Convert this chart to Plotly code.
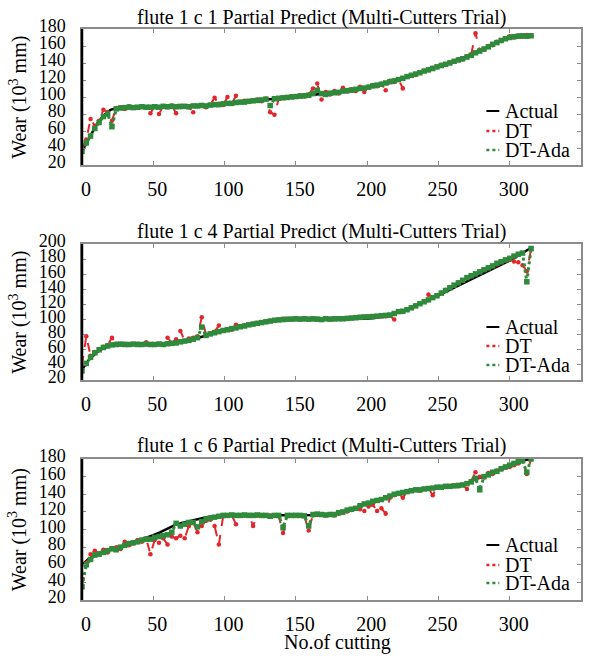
import plotly.graph_objects as go

# ---------------- data ----------------
cuts_actual = [0, 5, 10, 15, 20, 25, 30, 35, 40, 45, 50, 55, 60, 65, 70, 75, 80, 85, 90, 95,
               100, 105, 110, 115, 120, 125, 130, 135, 140, 145, 150, 155, 160, 165, 170, 175,
               180, 185, 190, 195, 200, 205, 210, 215, 220, 225, 230, 235, 240, 245, 250, 255,
               260, 265, 270, 275, 280, 285, 290, 295, 300, 305, 310, 315]

cuts_pred = [0, 3, 6, 9, 12, 15, 18, 21, 24, 27, 30, 33, 36, 39, 42, 45, 48, 51, 54, 57,
             60, 63, 66, 69, 72, 75, 78, 81, 84, 87, 90, 93, 96, 99, 102, 105, 108, 111, 114, 117,
             120, 123, 126, 129, 132, 135, 138, 141, 144, 147, 150, 153, 156, 159, 162, 165, 168, 171, 174, 177,
             180, 183, 186, 189, 192, 195, 198, 201, 204, 207, 210, 213, 216, 219, 222, 225, 228, 231, 234, 237,
             240, 243, 246, 249, 252, 255, 258, 261, 264, 267, 270, 273, 276, 279, 282, 285, 288, 291, 294, 297,
             300, 303, 306, 309, 312, 315]

# flute 1 c 1
c1_actual = [36, 51, 67, 78, 85, 87.5, 88, 88, 88, 88.2, 88.4, 88.5, 88.7, 88.8, 89, 89.3, 89.6, 90, 90.5, 91.2,
             92, 93, 93.8, 94.6, 95.4, 96.2, 97, 97.8, 98.6, 99.4, 100.2, 101, 101.7, 102.5, 103.3, 104.3,
             105.5, 106.8, 108.2, 109.7, 111.3, 113, 115, 117.2, 119.5, 122, 124.8, 127.6, 130.4, 133, 135.5, 138.5,
             141.3, 144, 147, 152, 155, 159, 163.5, 167, 170, 171.5, 172, 172.5]
c1_dt = [38, 50, 74, 66, 72, 85, 82, 72, 87, 88, 86, 89, 88, 87, 89, 88, 81, 89, 80, 89.5,
         88, 90, 81, 88, 89.5, 88, 82, 89, 90.5, 88, 91, 99, 92, 90.5, 100, 92, 101.5, 94, 95.5, 94,
         96, 97, 95, 98, 82, 79, 98, 99.5, 99, 100.5, 101, 102, 100.5, 103, 110, 116, 97, 106, 103, 107,
         104, 111, 106.5, 109, 107, 112, 106, 112, 114, 112.5, 115.5, 108, 119, 117.5, 121, 110, 124.5, 126, 126, 129,
         131, 131.5, 134.5, 135, 138, 137.5, 141, 141.5, 144.5, 144, 148, 150, 175, 155, 155.5, 160, 161, 165, 166, 169,
         171.5, 170, 172.5, 171, 173, 172]
c1_ada = [36, 46, 54, 63, 70, 77, 80, 65, 86, 87, 87.5, 88, 87.5, 88, 88.5, 88, 88, 88.5, 88, 89,
          88.5, 89, 88.5, 89, 89, 88.5, 89.5, 89.5, 90, 89.5, 90.5, 91, 91, 92, 92.5, 92.5, 93.5, 94, 94, 95,
          95.5, 96, 96.5, 97.5, 90, 98, 98.5, 99, 99.5, 100, 100.5, 101, 101.5, 102, 104, 108, 104, 103, 104.5, 105,
          105.5, 107, 107.5, 108, 109, 110, 110.5, 111.5, 113, 114, 115, 116.5, 118, 119, 120.5, 122, 124, 125.5, 127, 128.5,
          130.5, 132, 133.5, 135.5, 137, 138.5, 140, 142, 143.5, 145, 147, 149, 152, 154, 156.5, 159, 162, 164, 166.5, 168.5,
          170, 171, 171.5, 172, 171.5, 172]

# flute 1 c 4
c4_actual = [34, 47, 56, 62, 65.5, 67, 67, 67, 67, 67, 67, 67, 67.5, 68.5, 70, 72.5, 75, 78, 81, 83.5,
             86, 88, 90, 92, 94, 95.5, 97, 98.5, 99.5, 100, 100.3, 100.3, 100.3, 100.3, 100.3, 100.3,
             100.3, 100.3, 100.5, 100.8, 101.2, 102.2, 103.8, 106, 108.5, 111.5, 115, 119, 123, 127.5, 132, 136.5,
             141, 145.5, 150, 154.5, 159, 163.5, 168, 173, 178, 183.5, 189, 195]
c4_dt = [40, 78, 52, 57, 61, 64, 66, 76, 68, 67, 68, 67, 67.5, 68, 67, 70, 67.5, 67, 68, 67,
         76, 69, 74, 85, 72, 75, 76, 78, 103, 80, 82, 84, 92, 86, 87, 86.5, 93, 91, 92.5, 93,
         94.5, 95.5, 96.5, 97.5, 98.5, 99.5, 100, 101, 100.5, 101, 100.5, 101, 100.5, 101, 100.5, 101, 100.5, 101, 101, 100.5,
         101, 101.5, 102, 102, 103, 103.5, 103, 104, 103.5, 104.5, 104, 104.5, 105, 100, 111, 110, 113.5, 116, 118.5, 121.5,
         124, 133, 129, 132, 135.5, 139, 143, 145, 149, 151.5, 155, 157.5, 160, 163.5, 165.5, 168, 171, 173, 176, 178,
         179, 177, 176, 172, 164, 193]
c4_ada = [32, 42, 50, 56, 60, 63, 65, 66.5, 67, 67.5, 67, 67, 67.5, 67, 67, 67.5, 67, 67, 67.5, 67,
          68, 68.5, 69, 70.5, 71.5, 72.5, 74, 76, 90, 79, 81, 82.5, 84, 85.5, 86.5, 88, 89, 90.5, 91.5, 93,
          94, 95, 96, 97, 98, 99, 99.5, 100, 100.5, 100.5, 101, 100.5, 101, 100.5, 101, 100.5, 100, 101, 100.5, 101,
          101, 101, 101.5, 102, 102.5, 103, 103.5, 103.5, 104, 104.5, 105, 105.5, 106, 108, 110.5, 111, 113, 115.5, 118, 121,
          123.5, 126, 129, 131.5, 135, 138.5, 142, 145.5, 148.5, 152, 155.5, 158, 160.5, 163, 166, 168.5, 171, 174.5, 176.5, 179,
          181, 184, 186.5, 188, 150, 194]

# flute 1 c 6
c6_actual = [60, 67, 71, 74.5, 77, 79.5, 82, 85, 88, 90.5, 93.5, 97, 101, 105, 107.5, 109.5, 111.5, 113, 114.5, 115.5,
             116, 116, 116, 116, 116, 116, 116, 116, 116, 116, 116, 116, 116, 116.2, 116.5, 117,
             118.5, 121, 123.5, 126, 129, 132, 135, 138, 140.5, 142.5, 144, 145, 146, 147, 147.5, 148.5,
             149, 149.5, 151, 157, 159, 162.5, 166, 169.5, 173, 176, 178.5, 180]
c6_dt = [36, 62, 72, 76, 73, 77, 74, 79, 80, 78, 86, 82, 84, 88, 86, 90, 72, 88, 85, 90,
         83, 92, 90, 93, 90, 104, 108, 97, 104, 110, 111, 104, 83, 115, 116, 116.5, 106, 116, 116, 116.5,
         104, 116, 116, 115.5, 116, 116, 115, 96, 115, 116, 116.5, 116, 115, 99, 117, 116.5, 117, 116, 117.5, 116,
         118, 119, 120.5, 122, 124, 123, 121, 126, 128, 121, 124, 118, 136, 139, 141.5, 136, 143, 144, 145.5, 144,
         146, 146.5, 139, 148, 147.5, 149, 148.5, 150, 149, 151, 146, 155, 165, 160, 159, 164, 163, 167, 168, 170,
         171, 173, 175, 178, 163, 180]
c6_ada = [35, 60, 66, 71, 72, 74, 76, 78, 77, 80, 82, 84, 85, 86, 88, 89, 89, 91, 92, 93,
          94, 97, 107, 104, 106, 108, 108, 103, 109, 112, 113, 114, 115, 116, 116, 116.5, 116, 116, 116.5, 116,
          116, 116.5, 116, 116, 115, 116, 116, 102, 116, 116, 116, 116, 115.5, 104, 117, 117.5, 117, 116.5, 117, 117,
          119, 120, 122, 123, 124, 127, 129, 130, 132, 133, 134, 136, 138, 140, 141, 142, 143, 144, 145, 145,
          146, 146.5, 147, 148, 148, 149, 149, 149.5, 150, 150.5, 152, 154, 158, 145, 160, 162, 165, 166, 169, 171,
          173, 175, 177, 178, 165, 180]

titles = ["flute 1 c 1 Partial Predict (Multi-Cutters Trial)",
          "flute 1 c 4 Partial Predict (Multi-Cutters Trial)",
          "flute 1 c 6 Partial Predict (Multi-Cutters Trial)"]
series_names = ["Actual", "DT", "DT-Ada"]
x_ticks = [0, 50, 100, 150, 200, 250, 300, 350]
y_ticks = [[20, 40, 60, 80, 100, 120, 140, 160, 180],
           [20, 40, 60, 80, 100, 120, 140, 160, 180, 200],
           [20, 40, 60, 80, 100, 120, 140, 160, 180]]
y_ranges = [[20, 180], [20, 200], [20, 180]]
x_title = "No.of cutting"
y_title = "Wear (10<sup>3</sup> mm)"

panels = [(c1_actual, c1_dt, c1_ada), (c4_actual, c4_dt, c4_ada), (c6_actual, c6_dt, c6_ada)]
for a, d, g in panels:
    assert len(a) == len(cuts_actual), len(a)
    assert len(d) == len(cuts_pred), len(d)
    assert len(g) == len(cuts_pred), len(g)

# ---------------- layout geometry ----------------
W, H = 595, 661
L, R = 82, 583
TOP, BOT = 29, 600
PW, PH = R - L, BOT - TOP
panel_px = [(29, 165), (244, 380), (459, 600)]


def fx(px):
    return (px - L) / PW


def fy(py):
    return (BOT - py) / PH


FONT = "Liberation Serif"
RED = "#e3262b"
GREEN = "#2f8a3c"
GREY = "#8c8c8c"

fig = go.Figure()
annotations = []
shapes = []

for i, (act, dt, ada) in enumerate(panels):
    n = "" if i == 0 else str(i + 1)
    xa, ya = "x" + n, "y" + n
    fig.add_trace(go.Scatter(x=cuts_actual, y=act, mode="lines", name=series_names[0],
                             line=dict(color="black", width=2.5), xaxis=xa, yaxis=ya,
                             showlegend=False))
    fig.add_trace(go.Scatter(x=cuts_pred, y=dt, mode="lines+markers", name=series_names[1],
                             line=dict(color=RED, width=2, dash="dash"),
                             marker=dict(color=RED, size=4.5), xaxis=xa, yaxis=ya,
                             showlegend=False))
    fig.add_trace(go.Scatter(x=cuts_pred, y=ada, mode="lines+markers", name=series_names[2],
                             line=dict(color=GREEN, width=3, dash="dot"),
                             marker=dict(color=GREEN, size=5.5, symbol="square"), xaxis=xa, yaxis=ya,
                             showlegend=False))

    top, bot = panel_px[i]
    dom = [fy(bot), fy(top)]
    xkey = "xaxis" + n
    ykey = "yaxis" + n
    fig.layout[xkey] = dict(domain=[0, 1], anchor=ya, range=[0, 350], tickvals=x_ticks,
                            showline=True, linecolor=GREY, linewidth=1.5, mirror="ticks",
                            ticks="inside", ticklen=4, tickcolor=GREY, showgrid=False, zeroline=False,
                            tickfont=dict(family=FONT, size=20, color="black"),
                            ticklabelstandoff=5, ticklabelshift=4)
    fig.layout[ykey] = dict(domain=dom, anchor=xa, range=y_ranges[i], tickvals=y_ticks[i],
                            showline=True, linecolor=GREY, linewidth=1.5, mirror="ticks",
                            ticks="inside", ticklen=4, tickcolor=GREY, showgrid=False, zeroline=False,
                            tickfont=dict(family=FONT, size=18, color="black"),
                            ticklabelstandoff=11, ticklabelshift=-3)
    # black left axis
    shapes.append(dict(type="line", xref="x" + n + " domain", yref="y" + n + " domain",
                       x0=0, x1=0, y0=0, y1=1, line=dict(color="black", width=2.5), layer="above"))

    # title
    annotations.append(dict(text=titles[i], x=fx(322), y=fy((18, 231.5, 445)[i]), xref="paper", yref="paper",
                            xanchor="center", yanchor="middle", showarrow=False,
                            font=dict(family=FONT, size=20, color="black")))
    # y-axis title
    annotations.append(dict(text=y_title, x=fx(17.5), y=fy((top + bot) / 2), xref="paper", yref="paper",
                            xanchor="center", yanchor="middle", textangle=-90, showarrow=False,
                            font=dict(family=FONT, size=20, color="black")))
    # legend (manual)
    leg_y = [(111, 131, 150), (327, 346, 365), (545, 565, 583)][i]
    styles = [dict(color="black", width=2), dict(color=RED, width=2.5, dash="dot"),
              dict(color=GREEN, width=2.5, dash="dot")]
    for k in range(3):
        shapes.append(dict(type="line", xref="paper", yref="paper", x0=fx(488), x1=fx(501),
                           y0=fy(leg_y[k]), y1=fy(leg_y[k]), line=styles[k]))
        annotations.append(dict(text=series_names[k], x=fx(505), y=fy(leg_y[k]), xref="paper",
                                yref="paper", xanchor="left", yanchor="middle", showarrow=False,
                                font=dict(family=FONT, size=20, color="black")))

annotations.append(dict(text=x_title, x=fx(339), y=fy(643), xref="paper", yref="paper",
                        xanchor="center", yanchor="middle", showarrow=False,
                        font=dict(family=FONT, size=20, color="black")))

fig.update_layout(width=W, height=H, margin=dict(l=L, r=W - R, t=TOP, b=H - BOT),
                  paper_bgcolor="white", plot_bgcolor="white", showlegend=False,
                  annotations=annotations, shapes=shapes)

fig.write_html("out.html")
